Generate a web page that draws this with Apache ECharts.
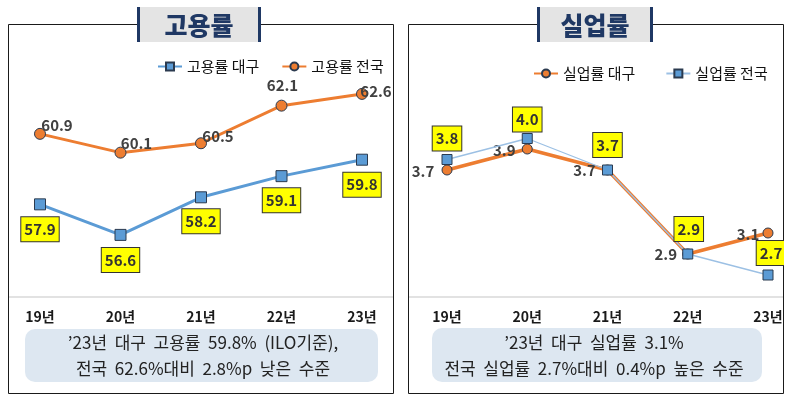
<!DOCTYPE html>
<html>
<head>
<meta charset="utf-8">
<script src="https://cdn.jsdelivr.net/npm/echarts@6/dist/echarts.min.js"></script>
<style>html,body{margin:0;padding:0;background:#fff}#c{width:796px;height:409px}</style>
</head>
<body>
<div id="c"></div>
<script>
// ---- data ----
const years = ['19년', '20년', '21년', '22년', '23년'];
const empDaegu = [57.9, 56.6, 58.2, 59.1, 59.8];
const empNation = [60.9, 60.1, 60.5, 62.1, 62.6];
const unempDaegu = [3.7, 3.9, 3.7, 2.9, 3.1];
const unempNation = [3.8, 4.0, 3.7, 2.9, 2.7];
const empNames = ['고용률 대구', '고용률 전국'];
const unempNames = ['실업률 대구', '실업률 전국'];
const titles = ['고용률', '실업률'];
const noteLeft = ['’23년  대구  고용률  59.8%  (ILO기준),', '전국  62.6%대비  2.8%p  낮은  수준'];
const noteRight = ['’23년  대구  실업률  3.1%', '전국  실업률  2.7%대비  0.4%p  높은  수준'];

// ---- styles ----
const FONT = '"Noto Sans CJK KR", "Noto Sans", sans-serif';
const ORANGE = '#ed7d31', BLUE = '#5b9bd5', LBLUE = '#9cc0e4', MK = '#2b3a4f';
const yellowBox = {
  show: true, position: 'inside', fontFamily: FONT, fontSize: 15, fontWeight: 'bold',
  color: '#333', backgroundColor: '#ffff00', borderColor: '#333', borderWidth: 1, padding: [5, 3, 4, 3],
  formatter: p => p.value.toFixed(1)
};
const plainLbl = {
  show: true, position: 'inside', fontFamily: FONT, fontSize: 15, fontWeight: 'bold', color: '#404040',
  formatter: p => p.value.toFixed(1)
};
const offEmpD = [[0, 25], [0, 25], [0, 24], [0, 24], [0, 25]];
const offEmpN = [[17, -9], [16, -9], [17, -7], [1, -20], [14, -3]];
const offUnD = [[-24, 1], [-23, 1], [-23, 0], [-22, 0], [-20, 1]];
const offUnN = [[0, -21], [0, -19], [0, -25], [1, -25], [3, -22]];
const withOff = (vals, offs) => vals.map((v, i) => ({ value: v, label: { offset: offs[i] } }));

const xAxisCommon = {
  type: 'category', data: years, boundaryGap: false,
  axisLine: { show: false }, axisTick: { show: false },
  axisLabel: { fontFamily: FONT, fontSize: 14, fontWeight: 'bold', color: '#1a1a1a', margin: 14 }
};
const yAxisCommon = { type: 'value', show: false, splitLine: { show: false } };

const chart = echarts.init(document.getElementById('c'), null, { renderer: 'canvas' });
const noteFont = '17px ' + FONT;
const option = {
  animation: false,
  backgroundColor: '#fff',
  grid: [
    { left: 40, right: 434, top: 61, bottom: 113 },
    { left: 447, right: 28, top: 65, bottom: 113 }
  ],
  xAxis: [
    Object.assign({ gridIndex: 0 }, xAxisCommon),
    Object.assign({ gridIndex: 1 }, xAxisCommon)
  ],
  yAxis: [
    Object.assign({ gridIndex: 0, min: 54, max: 64 }, yAxisCommon),
    Object.assign({ gridIndex: 1, min: 2.5, max: 4.7 }, yAxisCommon)
  ],
  legend: [
    { data: empNames, left: 152, top: 54, itemWidth: 24, itemHeight: 10, itemGap: 22,
      textStyle: { fontFamily: FONT, fontSize: 15, color: '#111' } },
    { data: unempNames, left: 528, top: 61, itemWidth: 24, itemHeight: 10, itemGap: 30,
      textStyle: { fontFamily: FONT, fontSize: 15, color: '#111' } }
  ],
  series: [
    { name: empNames[0], type: 'line', xAxisIndex: 0, yAxisIndex: 0, data: withOff(empDaegu, offEmpD),
      symbol: 'rect', symbolSize: 11, lineStyle: { color: BLUE, width: 3 },
      itemStyle: { color: BLUE, borderColor: MK, borderWidth: 1 }, label: yellowBox, z: 3 },
    { name: empNames[1], type: 'line', xAxisIndex: 0, yAxisIndex: 0, data: withOff(empNation, offEmpN),
      symbol: 'circle', symbolSize: 11, lineStyle: { color: ORANGE, width: 3 },
      itemStyle: { color: ORANGE, borderColor: MK, borderWidth: 1 }, label: plainLbl, z: 2 },
    { name: unempNames[0], type: 'line', xAxisIndex: 1, yAxisIndex: 1, data: withOff(unempDaegu, offUnD),
      symbol: 'circle', symbolSize: 10, lineStyle: { color: ORANGE, width: 3.5 },
      itemStyle: { color: ORANGE, borderColor: MK, borderWidth: 1 }, label: plainLbl, z: 2 },
    { name: unempNames[1], type: 'line', xAxisIndex: 1, yAxisIndex: 1, data: withOff(unempNation, offUnN),
      symbol: 'rect', symbolSize: 10, lineStyle: { color: LBLUE, width: 1.3 },
      itemStyle: { color: BLUE, borderColor: MK, borderWidth: 1 }, label: yellowBox, z: 3 }
  ],
  graphic: [
    { type: 'rect', z: -10, shape: { x: 8.5, y: 24.5, width: 385, height: 369 }, style: { fill: '#fff', stroke: '#1a1a1a', lineWidth: 1 } },
    { type: 'rect', z: -10, shape: { x: 408.5, y: 24.5, width: 375, height: 369 }, style: { fill: '#fff', stroke: '#1a1a1a', lineWidth: 1 } },
    { type: 'line', z: -5, shape: { x1: 9, y1: 297, x2: 393, y2: 297 }, style: { stroke: '#d9d9d9', lineWidth: 1.5 } },
    { type: 'line', z: -5, shape: { x1: 409, y1: 297, x2: 783, y2: 297 }, style: { stroke: '#d9d9d9', lineWidth: 1.5 } },
    { type: 'rect', z: 5, shape: { x: 137, y: 7, width: 124, height: 35 }, style: { fill: '#e4e4e4' } },
    { type: 'rect', z: 6, shape: { x: 137, y: 7, width: 3, height: 35 }, style: { fill: '#1f3864' } },
    { type: 'rect', z: 6, shape: { x: 258, y: 7, width: 3, height: 35 }, style: { fill: '#1f3864' } },
    { type: 'text', z: 7, x: 199, y: 25, style: { text: titles[0], fill: '#1f3864', font: '900 25px ' + FONT, textAlign: 'center', textVerticalAlign: 'middle' } },
    { type: 'rect', z: 5, shape: { x: 537, y: 7, width: 116, height: 35 }, style: { fill: '#e4e4e4' } },
    { type: 'rect', z: 6, shape: { x: 537, y: 7, width: 3, height: 35 }, style: { fill: '#1f3864' } },
    { type: 'rect', z: 6, shape: { x: 650, y: 7, width: 3, height: 35 }, style: { fill: '#1f3864' } },
    { type: 'text', z: 7, x: 595, y: 25, style: { text: titles[1], fill: '#1f3864', font: '900 25px ' + FONT, textAlign: 'center', textVerticalAlign: 'middle' } },
    { type: 'rect', z: 5, shape: { x: 25, y: 329, width: 353, height: 53, r: 10 }, style: { fill: '#dde7f1' } },
    { type: 'text', z: 6, x: 203, y: 343, style: { text: noteLeft[0], fill: '#222', font: noteFont, textAlign: 'center', textVerticalAlign: 'middle' } },
    { type: 'text', z: 6, x: 203, y: 369, style: { text: noteLeft[1], fill: '#222', font: noteFont, textAlign: 'center', textVerticalAlign: 'middle' } },
    { type: 'rect', z: 5, shape: { x: 432, y: 328, width: 330, height: 54, r: 10 }, style: { fill: '#dde7f1' } },
    { type: 'text', z: 6, x: 594, y: 343, style: { text: noteRight[0], fill: '#222', font: noteFont, textAlign: 'center', textVerticalAlign: 'middle' } },
    { type: 'text', z: 6, x: 594, y: 369, style: { text: noteRight[1], fill: '#222', font: noteFont, textAlign: 'center', textVerticalAlign: 'middle' } },
    { type: 'rect', z: 100, shape: { x: 784, y: 0, width: 12, height: 409 }, style: { fill: '#fff' } }
  ]
};
chart.setOption(option);
</script>
</body>
</html>
